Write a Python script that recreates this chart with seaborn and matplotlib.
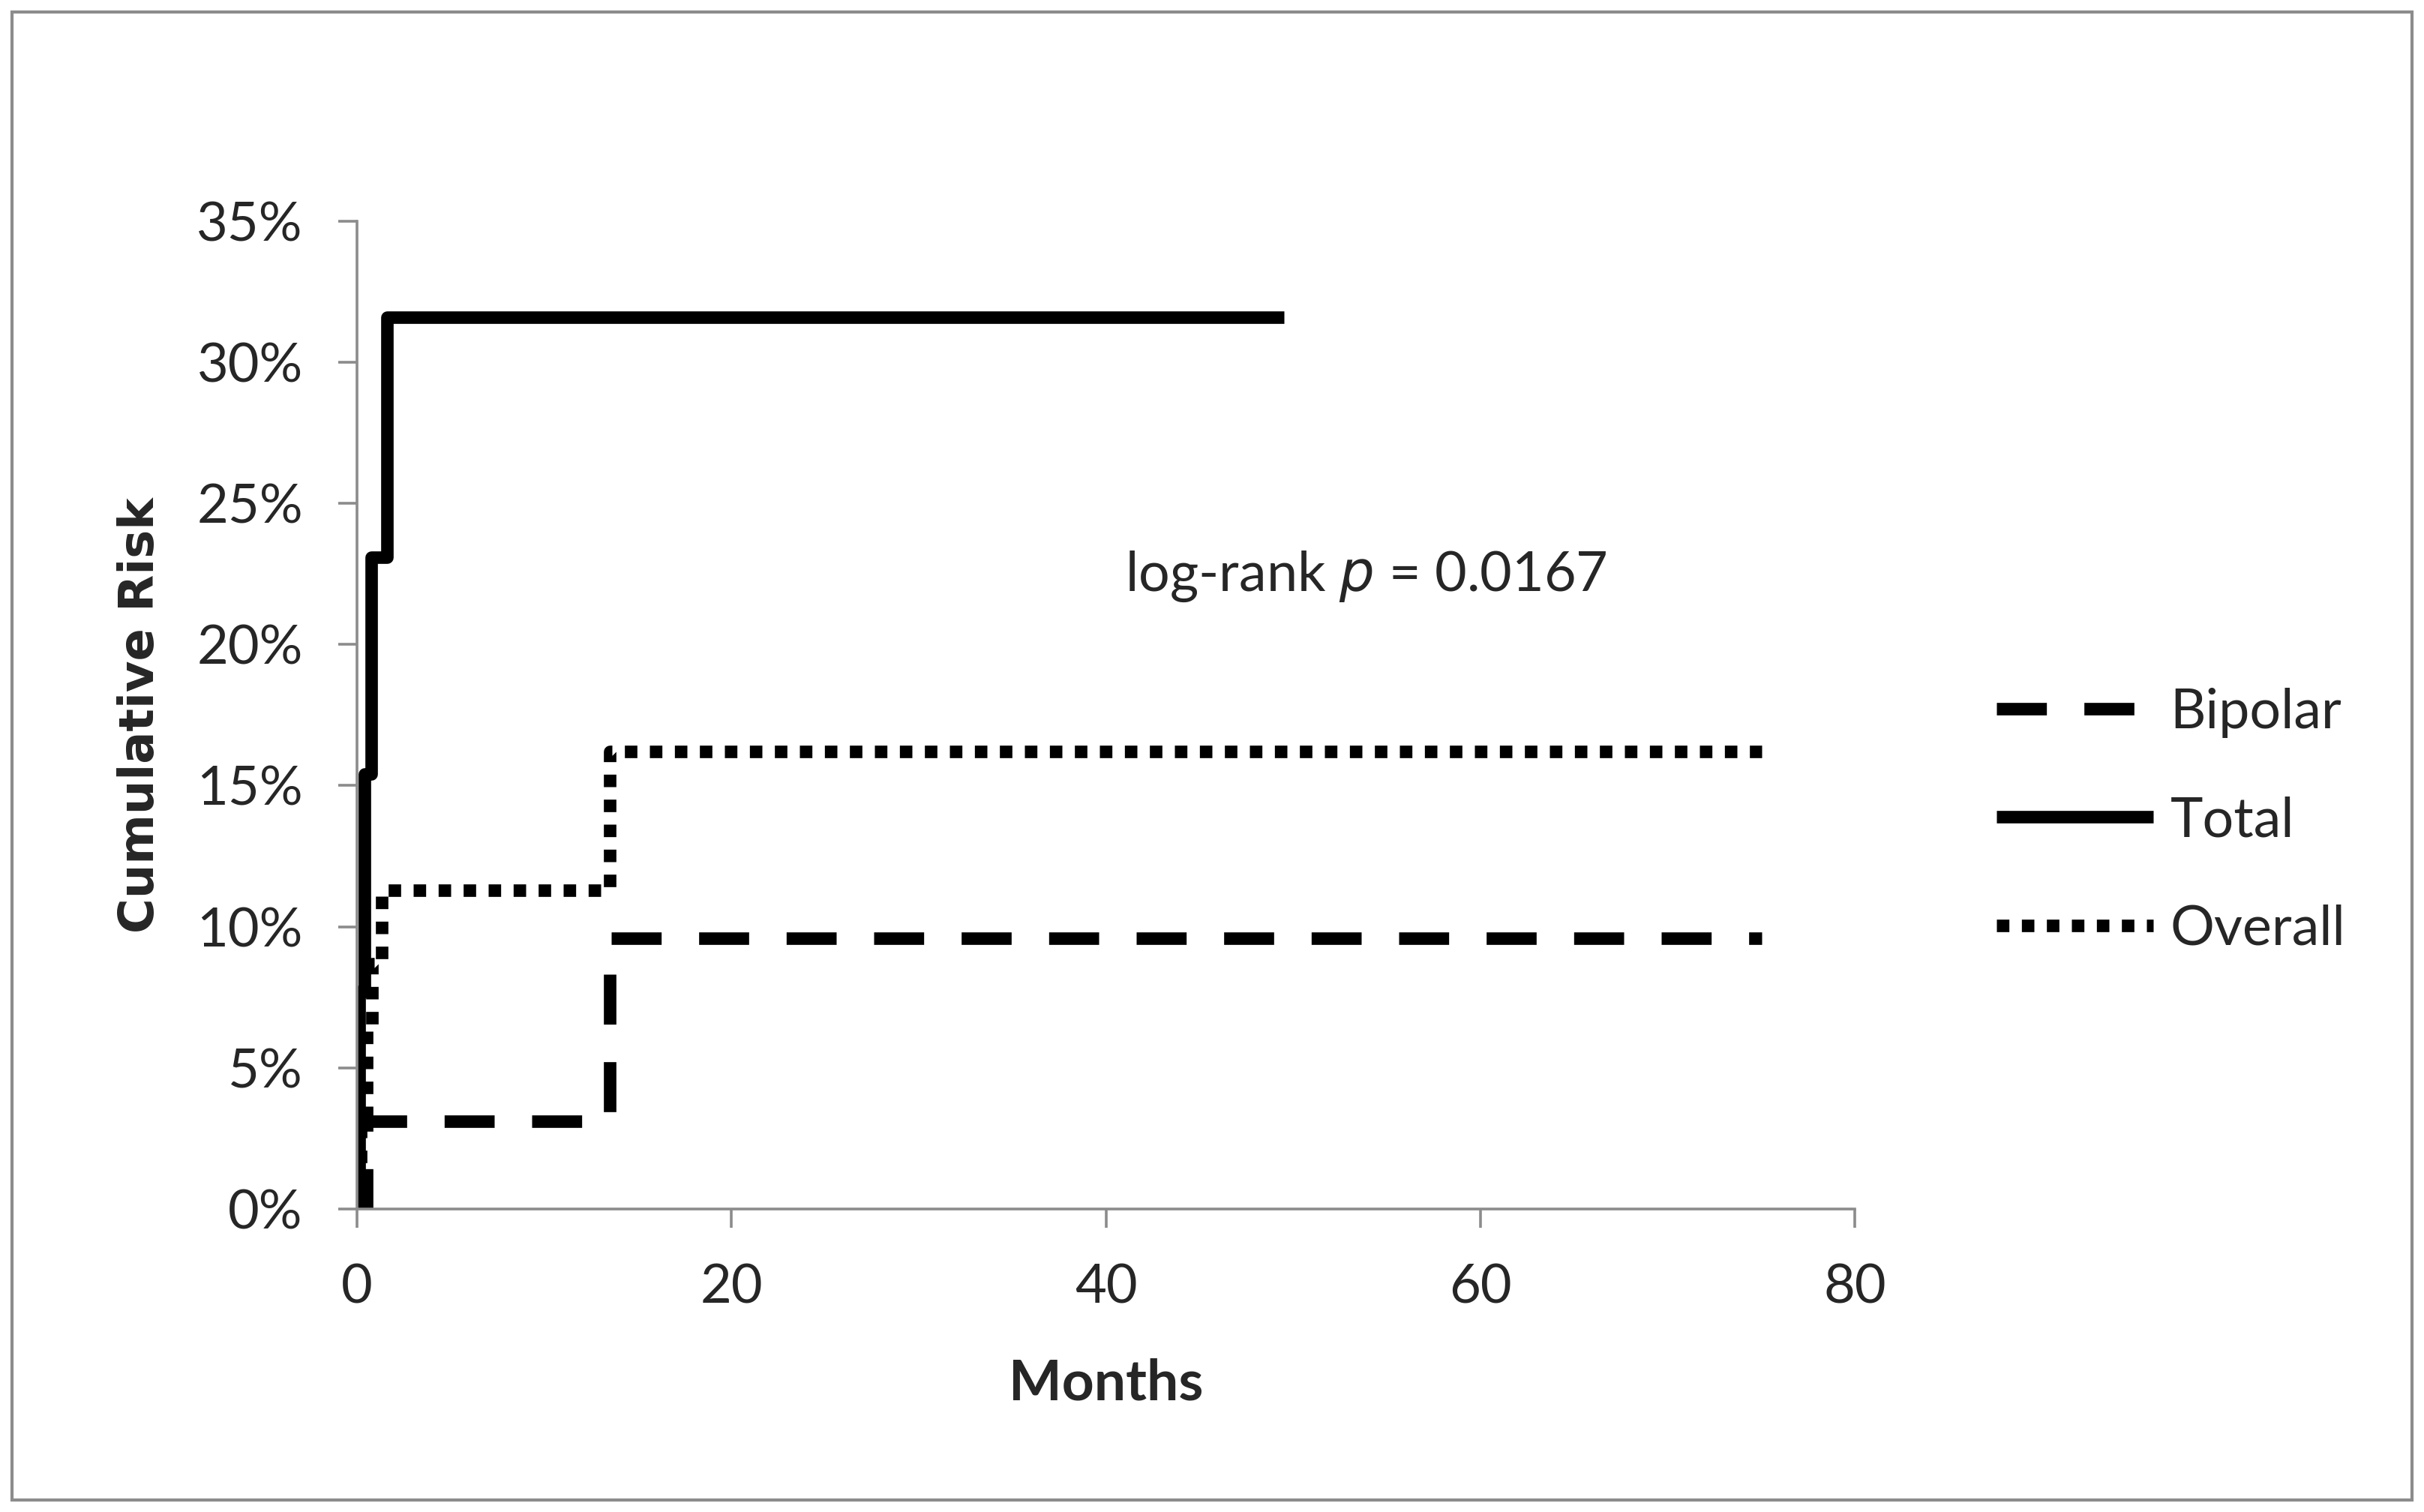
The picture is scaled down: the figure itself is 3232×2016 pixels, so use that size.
import matplotlib
matplotlib.use('Agg')
import matplotlib.pyplot as plt
from matplotlib.patches import Rectangle
from matplotlib.ticker import FuncFormatter
import seaborn as sns
import pandas as pd

# step data (months, cumulative risk %)
bipolar_months = [0, 0.5, 13.5, 75]
bipolar_risk = [0, 3.1, 9.6, 9.6]

total_months = [0, 0.1, 0.4, 0.75, 1.6, 49.5]
total_risk = [0, 7.7, 15.4, 23.1, 31.6, 31.6]

overall_months = [0, 0.2, 0.5, 0.8, 1.3, 13.5, 75]
overall_risk = [0, 3.0, 6.5, 8.7, 11.3, 16.2, 16.2]

series_names = ['Bipolar', 'Total', 'Overall']
x_ticks = [0, 20, 40, 60, 80]
y_ticks = [0, 5, 10, 15, 20, 25, 30, 35]

sns.set_style('white')
plt.rcParams['font.family'] = ['Lato', 'DejaVu Sans']

fig = plt.figure(figsize=(16.16, 10.08), dpi=200)
ax = fig.add_axes([0.1473, 0.2004, 0.618, 0.6534])

gray = '#8c8c8c'
lw = 6

sns.lineplot(x=bipolar_months, y=bipolar_risk, ax=ax, color='black', lw=lw,
             drawstyle='steps-post', linestyle=(0, (4, 3)), dash_capstyle='butt',
             label=series_names[0])
sns.lineplot(x=total_months, y=total_risk, ax=ax, color='black', lw=lw,
             drawstyle='steps-post', solid_capstyle='butt', label=series_names[1])
sns.lineplot(x=overall_months, y=overall_risk, ax=ax, color='black', lw=lw,
             drawstyle='steps-post', linestyle=(0, (1, 1)), dash_capstyle='butt',
             label=series_names[2])

ax.set_xlim(0, 80)
ax.set_ylim(0, 35)
ax.set_xticks(x_ticks)
ax.set_yticks(y_ticks)
ax.yaxis.set_major_formatter(FuncFormatter(lambda v, p: f'{v:.0f}%'))

for s in ['top', 'right']:
    ax.spines[s].set_visible(False)
for s in ['left', 'bottom']:
    ax.spines[s].set_color(gray)
    ax.spines[s].set_linewidth(1.3)
ax.tick_params(axis='both', direction='out', length=9, width=1.3, color=gray,
               labelsize=26, pad=17, left=True, bottom=True)

ax.set_xlabel('Months', fontsize=27, fontweight='bold', labelpad=22)
ax.set_ylabel('Cumulative Risk', fontsize=23, fontweight='bold', labelpad=16,
              family='DejaVu Sans')

ax.text(41, 22.4, 'log-rank $\\it{p}$ = 0.0167', fontsize=26.5, va='center', ha='left')

ax.legend(loc='center left', bbox_to_anchor=(0.803, 0.457), bbox_transform=fig.transFigure,
          frameon=False, fontsize=26.5, handlelength=2.85, handletextpad=0.3,
          labelspacing=1.05)

fig.patches.append(Rectangle((0.005, 0.008), 0.99, 0.984, transform=fig.transFigure,
                             fill=False, edgecolor=gray, lw=1.5))

fig.savefig('out.png', dpi=200, facecolor='white')
